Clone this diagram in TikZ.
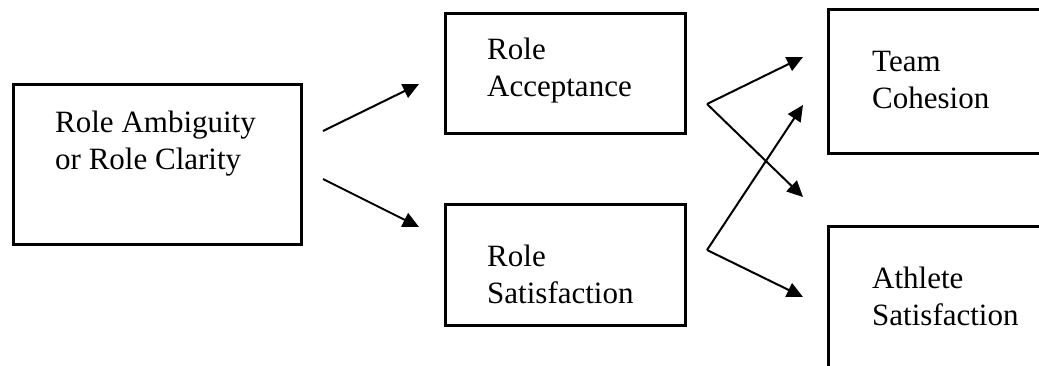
\documentclass[tikz,border=0pt]{standalone}
\usepackage{fontspec}
\setmainfont{Liberation Serif}
\usetikzlibrary{arrows.meta}
\begin{document}
\begin{tikzpicture}[x=1pt,y=-1pt,
  box/.style={draw, line width=2.6pt, rectangle, inner sep=0pt, anchor=north west},
  lbl/.style={anchor=base west, inner sep=0pt, align=left, font=\fontsize{31}{37}\selectfont},
  arr/.style={line width=2pt, -{Triangle[length=16pt,width=15pt]}}]
\useasboundingbox (0,0) rectangle (1039,366);
\clip (0,0) rectangle (1039,366);
% boxes
\node[box, minimum width=288pt, minimum height=160pt] (amb) at (12,83) {};
\node[box, minimum width=240pt, minimum height=120pt] (acc) at (444,12) {};
\node[box, minimum width=240pt, minimum height=121pt] (sat) at (444,203) {};
\node[box, minimum width=240pt, minimum height=144pt] (coh) at (827,8) {};
\node[box, minimum width=240pt, minimum height=170pt] (ath) at (827,225) {};
% labels (base = baseline of last line)
\node[lbl] (tamb) at (55,170) {Role Ambiguity\\or Role Clarity};
\node[lbl] (tacc) at (487,97) {Role\\Acceptance};
\node[lbl] (tsat) at (487,303) {Role\\Satisfaction};
\node[lbl] (tcoh) at (872,109) {Team\\Cohesion};
\node[lbl] (tath) at (872,325) {Athlete\\Satisfaction};
% connector ends
\coordinate (a1) at (323,131);
\coordinate (a1e) at (419,84);
\coordinate (a2) at (323,179);
\coordinate (a2e) at (419,227);
\coordinate (hA) at (707,104);
\coordinate (hB) at (707,250);
\coordinate (cohA) at (803,57);
\coordinate (cohB) at (803,105);
\coordinate (athA) at (803,197);
\coordinate (athB) at (803,297);
% connectors
\draw[arr] (a1) -- (a1e);
\draw[arr] (a2) -- (a2e);
\draw[arr] (hA) -- (cohA);
\draw[arr] (hA) -- (athA);
\draw[arr] (hB) -- (cohB);
\draw[arr] (hB) -- (athB);
\end{tikzpicture}
\end{document}
